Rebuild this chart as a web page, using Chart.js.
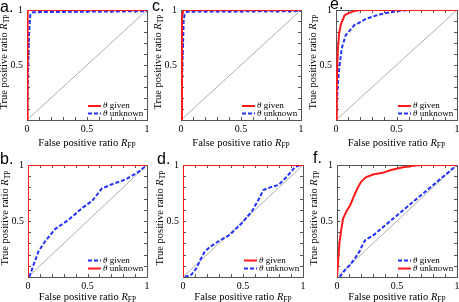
<!DOCTYPE html>
<html>
<head>
<meta charset="utf-8">
<script src="https://cdn.jsdelivr.net/npm/chart.js@4.4.1/dist/chart.umd.min.js"></script>
<style>
body { margin: 0; background: #fff; width: 459px; height: 302px; overflow: hidden; position: relative; }
canvas { position: absolute; }
</style>
</head>
<body>
<script>
// tick labels
const xTickLabels = [0, 0.5, 1];
const yTickLabels = [0.5, 1];
const diagX = [0, 1], diagY = [0, 1];

// a.
const aGivenX = [0.005, 0.005, 1];
const aGivenY = [0, 1, 1];
const aUnknownX = [0, 0.008, 0.017, 0.028, 0.05, 0.5, 1];
const aUnknownY = [0, 0.4, 0.78, 0.96, 0.98, 0.985, 0.99];
// c.
const cGivenX = [0.008, 0.008, 0.02, 1];
const cGivenY = [0, 0.94, 1, 1];
const cUnknownX = [0, 0.012, 0.022, 0.03, 0.05, 1];
const cUnknownY = [0, 0.5, 0.9, 0.96, 0.985, 0.99];
// e.
const eGivenX = [0, 0.006, 0.014, 0.025, 0.04, 0.07, 0.1, 0.15, 0.2, 1];
const eGivenY = [0, 0.3, 0.62, 0.78, 0.87, 0.95, 0.97, 0.99, 1, 1];
const eUnknownX = [0, 0.008, 0.017, 0.025, 0.047, 0.08, 0.15, 0.25, 0.36, 0.5, 0.6, 1];
const eUnknownY = [0, 0.2, 0.35, 0.45, 0.65, 0.77, 0.86, 0.92, 0.96, 0.99, 1, 1];
// b.
const bGivenX = [0.011, 0.047, 0.089, 0.145, 0.23, 0.34, 0.46, 0.54, 0.62, 0.71, 0.82, 0.93, 1];
const bGivenY = [0, 0.11, 0.23, 0.32, 0.43, 0.51, 0.62, 0.68, 0.79, 0.83, 0.87, 0.94, 1];
const bUnknownX = [0, 0, 1];
const bUnknownY = [0, 1, 1];
// d.
const dGivenX = [0, 0, 1];
const dGivenY = [0, 1, 1];
const dUnknownX = [0.014, 0.07, 0.112, 0.145, 0.182, 0.224, 0.293, 0.391, 0.489, 0.573, 0.628, 0.67, 0.726, 0.796, 0.866, 0.936, 0.991, 1];
const dUnknownY = [0, 0.02, 0.08, 0.154, 0.228, 0.267, 0.317, 0.377, 0.48, 0.584, 0.688, 0.777, 0.8, 0.822, 0.896, 0.985, 1, 1];
// f.
const fGivenX = [0.022, 0.064, 0.106, 0.148, 0.19, 0.217, 0.239, 0.3, 0.4, 0.5, 0.6, 0.7, 0.8, 0.9, 1];
const fGivenY = [0, 0.06, 0.105, 0.164, 0.233, 0.298, 0.334, 0.37, 0.46, 0.55, 0.64, 0.73, 0.82, 0.91, 1];
const fUnknownX = [0, 0.01, 0.02, 0.035, 0.05, 0.08, 0.11, 0.14, 0.17, 0.2, 0.24, 0.3, 0.38, 0.45, 0.55, 0.65, 0.72, 1];
const fUnknownY = [0, 0.15, 0.3, 0.42, 0.52, 0.59, 0.64, 0.72, 0.79, 0.85, 0.89, 0.915, 0.93, 0.955, 0.98, 0.995, 1, 1];

const RED = '#ff1a1a', BLUE = '#2233ff';
const serif = '"Liberation Serif", "DejaVu Serif", serif';

const panels = [
  { letter: 'a.', letterAt: [0, 12], box: [27, 10, 147, 120], given: [aGivenX, aGivenY], unknown: [aUnknownX, aUnknownY], givenRed: true, legY: [-14, -6.5], titleDy: 23 },
  { letter: 'c.', letterAt: [152, 11], box: [181, 10, 301, 120], given: [cGivenX, cGivenY], unknown: [cUnknownX, cUnknownY], givenRed: true, legY: [-14, -6.5], titleDy: 23 },
  { letter: 'e.', letterAt: [330, 9], box: [336, 10, 457, 120], given: [eGivenX, eGivenY], unknown: [eUnknownX, eUnknownY], givenRed: true, legY: [-14, -6.5], titleDy: 23 },
  { letter: 'b.', letterAt: [0, 164], box: [28, 165, 147, 277], given: [bGivenX, bGivenY], unknown: [bUnknownX, bUnknownY], givenRed: false, legY: [-16.5, -8.5], titleDy: 20 },
  { letter: 'd.', letterAt: [157, 164], box: [183, 165, 303, 277], given: [dGivenX, dGivenY], unknown: [dUnknownX, dUnknownY], givenRed: true, legY: [-16.5, -8.5], titleDy: 20 },
  { letter: 'f.', letterAt: [313, 163], box: [337, 165, 457, 277], given: [fGivenX, fGivenY], unknown: [fUnknownX, fUnknownY], givenRed: false, legY: [-16.5, -8.5], titleDy: 20 }
];

function pts(xs, ys) {
  return xs.map((x, i) => ({ x: x, y: ys[i] }));
}

function near(v, list) {
  return list.some(t => Math.abs(v - t) < 1e-6);
}

function drawTitle(ctx, prefix, sub, x, y) {
  ctx.font = '10.5px ' + serif;
  const w1 = ctx.measureText(prefix).width;
  ctx.font = 'italic 10.5px ' + serif;
  const w2 = ctx.measureText('R').width;
  ctx.font = '7.5px ' + serif;
  const w3 = ctx.measureText(sub).width;
  let sx = x - (w1 + w2 + w3) / 2;
  ctx.textAlign = 'left';
  ctx.textBaseline = 'middle';
  ctx.fillStyle = '#000';
  ctx.font = '10.5px ' + serif;
  ctx.fillText(prefix, sx, y);
  sx += w1;
  ctx.font = 'italic 10.5px ' + serif;
  ctx.fillText('R', sx, y);
  sx += w2;
  ctx.font = '7.5px ' + serif;
  ctx.fillText(sub, sx, y + 3);
}

function legendLine(ctx, x0, x1, y, red) {
  ctx.save();
  ctx.strokeStyle = red ? RED : BLUE;
  ctx.lineWidth = 2;
  ctx.setLineDash(red ? [] : [4, 2]);
  ctx.beginPath();
  ctx.moveTo(x0, y);
  ctx.lineTo(x1, y);
  ctx.stroke();
  ctx.restore();
}

const framePlugin = {
  id: 'frame',
  beforeDatasetsDraw(chart) {
    const { ctx, chartArea: a, scales } = chart;
    ctx.save();
    ctx.strokeStyle = '#555';
    ctx.lineWidth = 1;
    ctx.strokeRect(Math.round(a.left) + 0.5, Math.round(a.top) + 0.5, Math.round(a.right - a.left), Math.round(a.bottom - a.top));
    ctx.beginPath();
    scales.x.ticks.forEach(t => {
      const x = Math.round(scales.x.getPixelForValue(t.value)) + 0.5;
      ctx.moveTo(x, a.bottom); ctx.lineTo(x, a.bottom - 3);
      ctx.moveTo(x, a.top); ctx.lineTo(x, a.top + 3);
    });
    scales.y.ticks.forEach(t => {
      const y = Math.round(scales.y.getPixelForValue(t.value)) + 0.5;
      ctx.moveTo(a.left, y); ctx.lineTo(a.left + 3, y);
      ctx.moveTo(a.right, y); ctx.lineTo(a.right - 3, y);
    });
    ctx.stroke();
    ctx.restore();
  },
  afterDraw(chart, args, opts) {
    const { ctx, chartArea: a } = chart;
    ctx.save();
    // axis titles
    drawTitle(ctx, 'False positive ratio ', 'FP', (a.left + a.right) / 2, a.bottom + opts.titleDy);
    ctx.save();
    ctx.translate(a.left - 23, (a.top + a.bottom) / 2 - 3);
    ctx.rotate(-Math.PI / 2);
    drawTitle(ctx, 'True positive ratio ', 'TP', 0, 0);
    ctx.restore();
    // legend
    const rows = [
      { red: opts.givenRed, text: ' given' },
      { red: !opts.givenRed, text: ' unknown' }
    ];
    rows.forEach((r, i) => {
      const y = a.bottom + opts.legY[i];
      legendLine(ctx, a.right - 59, a.right - 46, y, r.red);
      ctx.fillStyle = '#000';
      ctx.textAlign = 'left';
      ctx.textBaseline = 'middle';
      ctx.font = 'italic 9px ' + serif;
      const tx = a.right - 44;
      ctx.fillText('\u03b8', tx, y);
      const w = ctx.measureText('\u03b8').width;
      ctx.font = '9px ' + serif;
      ctx.fillText(r.text, tx + w, y);
    });
    // panel letter
    ctx.fillStyle = '#000';
    ctx.font = '16px "Liberation Sans", Arial, sans-serif';
    ctx.textAlign = 'left';
    ctx.textBaseline = 'alphabetic';
    ctx.fillText(opts.letter, opts.lx, opts.ly);
    ctx.restore();
  }
};

const LEFT = 31, TOP = 14, RIGHT = 6, BOTTOM = 30;

panels.forEach(p => {
  const [l, t, r, b] = p.box;
  const cv = document.createElement('canvas');
  const w = LEFT + (r - l) + RIGHT;
  const h = TOP + (b - t) + BOTTOM;
  cv.width = w; cv.height = h;
  cv.style.left = (l - LEFT) + 'px';
  cv.style.top = (t - TOP) + 'px';
  document.body.appendChild(cv);

  const givenSet = {
    data: pts(p.given[0], p.given[1]),
    borderColor: p.givenRed ? RED : BLUE,
    borderDash: p.givenRed ? [] : [4, 2],
    order: p.givenRed ? 1 : 2
  };
  const unknownSet = {
    data: pts(p.unknown[0], p.unknown[1]),
    borderColor: p.givenRed ? BLUE : RED,
    borderDash: p.givenRed ? [4, 2] : [],
    order: p.givenRed ? 2 : 1
  };

  new Chart(cv, {
    type: 'line',
    data: {
      datasets: [
        { data: pts(diagX, diagY), borderColor: '#999', borderWidth: 0.8, order: 3 },
        Object.assign({ borderWidth: 2 }, unknownSet),
        Object.assign({ borderWidth: 2 }, givenSet)
      ]
    },
    options: {
      responsive: false,
      animation: false,
      events: [],
      layout: { autoPadding: false, padding: { left: 0, top: TOP, right: RIGHT, bottom: 0 } },
      elements: { point: { radius: 0 }, line: { tension: 0, fill: false } },
      plugins: {
        legend: { display: false },
        tooltip: { enabled: false },
        frame: {
          givenRed: p.givenRed, legY: p.legY, titleDy: p.titleDy,
          letter: p.letter, lx: p.letterAt[0] - (l - LEFT), ly: p.letterAt[1] - (t - TOP)
        }
      },
      scales: {
        x: {
          type: 'linear', min: 0, max: 1,
          grid: { display: false, drawTicks: false }, border: { display: false },
          ticks: {
            stepSize: 0.1, autoSkip: false, maxRotation: 0, padding: 3,
            color: '#000', font: { family: serif, size: 10 },
            callback: v => near(v, xTickLabels) ? String(Math.round(v * 10) / 10) : ''
          },
          afterFit: s => { s.height = BOTTOM; }
        },
        y: {
          type: 'linear', min: 0, max: 1,
          grid: { display: false, drawTicks: false }, border: { display: false },
          ticks: {
            stepSize: 0.1, autoSkip: false, padding: 4,
            color: '#000', font: { family: serif, size: 10 },
            callback: v => near(v, yTickLabels) ? String(Math.round(v * 10) / 10) : ''
          },
          afterFit: s => { s.width = LEFT; }
        }
      }
    },
    plugins: [framePlugin]
  });
});
</script>
</body>
</html>
